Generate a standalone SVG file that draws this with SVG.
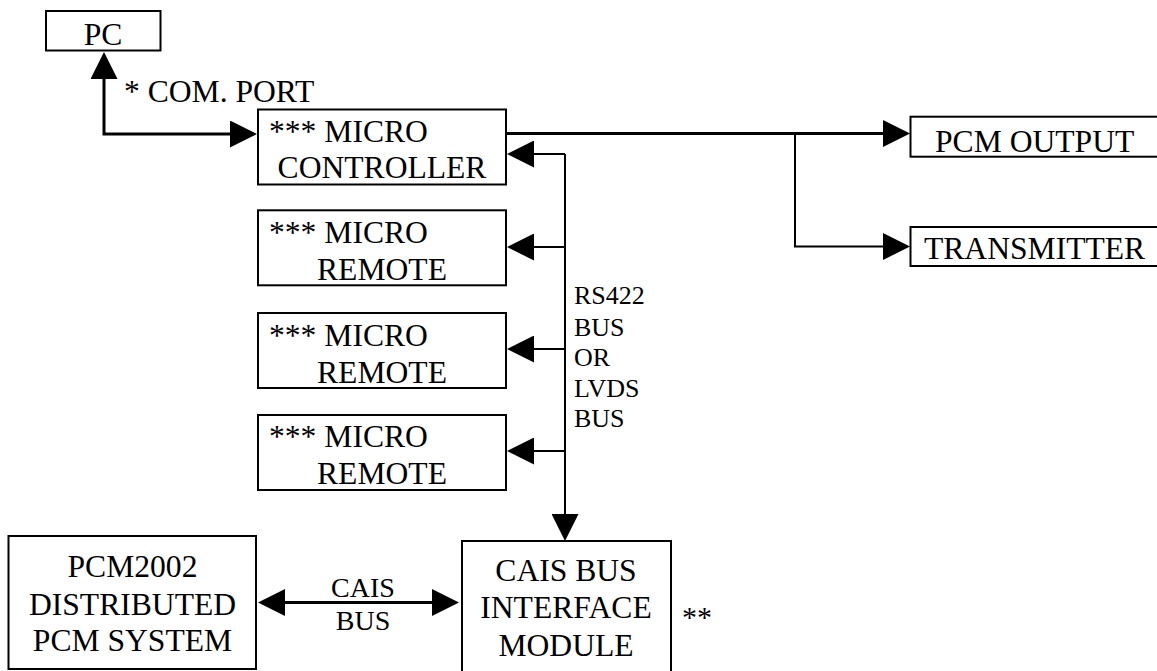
<svg xmlns="http://www.w3.org/2000/svg" width="1157" height="671" viewBox="0 0 1157 671">
  <style>
    .box { fill: #ffffff; stroke: #000000; stroke-width: 2; }
    .t { font-family: "Liberation Serif", "Times New Roman", serif; font-size: 31.6px; fill: #000000; }
    .m { text-anchor: middle; }
    .bus { font-family: "Liberation Serif", "Times New Roman", serif; font-size: 26px; fill: #000000; }
    .cais { font-family: "Liberation Serif", "Times New Roman", serif; font-size: 28px; fill: #000000; text-anchor: middle; }
    .thick { fill: none; stroke: #000000; stroke-width: 3; }
    .thin { fill: none; stroke: #000000; stroke-width: 2; }
  </style>
  <defs>
    <marker id="ah" viewBox="0 0 27 27" markerWidth="27" markerHeight="27" markerUnits="userSpaceOnUse" refX="24" refY="13.5" orient="auto-start-reverse">
      <path d="M0,0 L27,13.5 L0,27 Z" fill="#000000"/>
    </marker>
  </defs>
  <rect width="1157" height="671" fill="#ffffff"/>

  <g id="connectors">
    <path class="thick" d="M104,55 L104,134 L254,134" marker-start="url(#ah)" marker-end="url(#ah)"/>
    <path class="thick" d="M507,133.5 L907,133.5" marker-end="url(#ah)"/>
    <path class="thin" d="M795,133.5 L795,246.5 L907,246.5" marker-end="url(#ah)"/>
    <path class="thin" d="M565,154 L565,538" marker-end="url(#ah)"/>
    <path class="thin" d="M565,154 L510,154" marker-end="url(#ah)"/>
    <path class="thin" d="M565,247 L510,247" marker-end="url(#ah)"/>
    <path class="thin" d="M565,349 L510,349" marker-end="url(#ah)"/>
    <path class="thin" d="M565,451 L510,451" marker-end="url(#ah)"/>
    <path class="thick" d="M261,602.5 L456,602.5" marker-start="url(#ah)" marker-end="url(#ah)"/>
    <text class="t" x="124" y="101.5">* COM. PORT</text>
    <text class="bus" x="574" y="304">RS422</text>
    <text class="bus" x="574" y="336">BUS</text>
    <text class="bus" x="574" y="366">OR</text>
    <text class="bus" x="574" y="397">LVDS</text>
    <text class="bus" x="574" y="427">BUS</text>
    <text class="cais" x="363" y="597">CAIS</text>
    <text class="cais" x="363" y="630">BUS</text>
  </g>

  <g id="pc">
    <rect class="box" x="46" y="11" width="114.5" height="39.5"/>
    <text class="t m" x="103" y="45">PC</text>
  </g>

  <g id="micro-controller">
    <rect class="box" x="258" y="109.5" width="248" height="75"/>
    <text class="t" x="269" y="142">*** MICRO</text>
    <text class="t m" x="382" y="178">CONTROLLER</text>
  </g>

  <g id="micro-remote-1">
    <rect class="box" x="258" y="210.3" width="248" height="75"/>
    <text class="t" x="269" y="243.3">*** MICRO</text>
    <text class="t m" x="382" y="280">REMOTE</text>
  </g>

  <g id="micro-remote-2">
    <rect class="box" x="258" y="313" width="248" height="75"/>
    <text class="t" x="269" y="346">*** MICRO</text>
    <text class="t m" x="382" y="382.7">REMOTE</text>
  </g>

  <g id="micro-remote-3">
    <rect class="box" x="258" y="415" width="248" height="75"/>
    <text class="t" x="269" y="447">*** MICRO</text>
    <text class="t m" x="382" y="484">REMOTE</text>
  </g>

  <g id="pcm-output">
    <rect class="box" x="910.5" y="116.7" width="260" height="40"/>
    <text class="t" x="935" y="151.5">PCM OUTPUT</text>
  </g>

  <g id="transmitter">
    <rect class="box" x="910.5" y="227" width="260" height="39"/>
    <text class="t" x="924" y="259.3">TRANSMITTER</text>
  </g>

  <g id="pcm2002">
    <rect class="box" x="8.5" y="536" width="247.5" height="133"/>
    <text class="t m" x="132.5" y="577">PCM2002</text>
    <text class="t m" x="132.5" y="615">DISTRIBUTED</text>
    <text class="t m" x="132.5" y="651">PCM SYSTEM</text>
  </g>

  <g id="cais-interface">
    <rect class="box" x="462" y="541" width="209" height="140"/>
    <text class="t m" x="566" y="581">CAIS BUS</text>
    <text class="t m" x="566" y="618">INTERFACE</text>
    <text class="t m" x="566" y="656">MODULE</text>
    <text class="t" x="682" y="627" style="font-size:30px">**</text>
  </g>
</svg>
